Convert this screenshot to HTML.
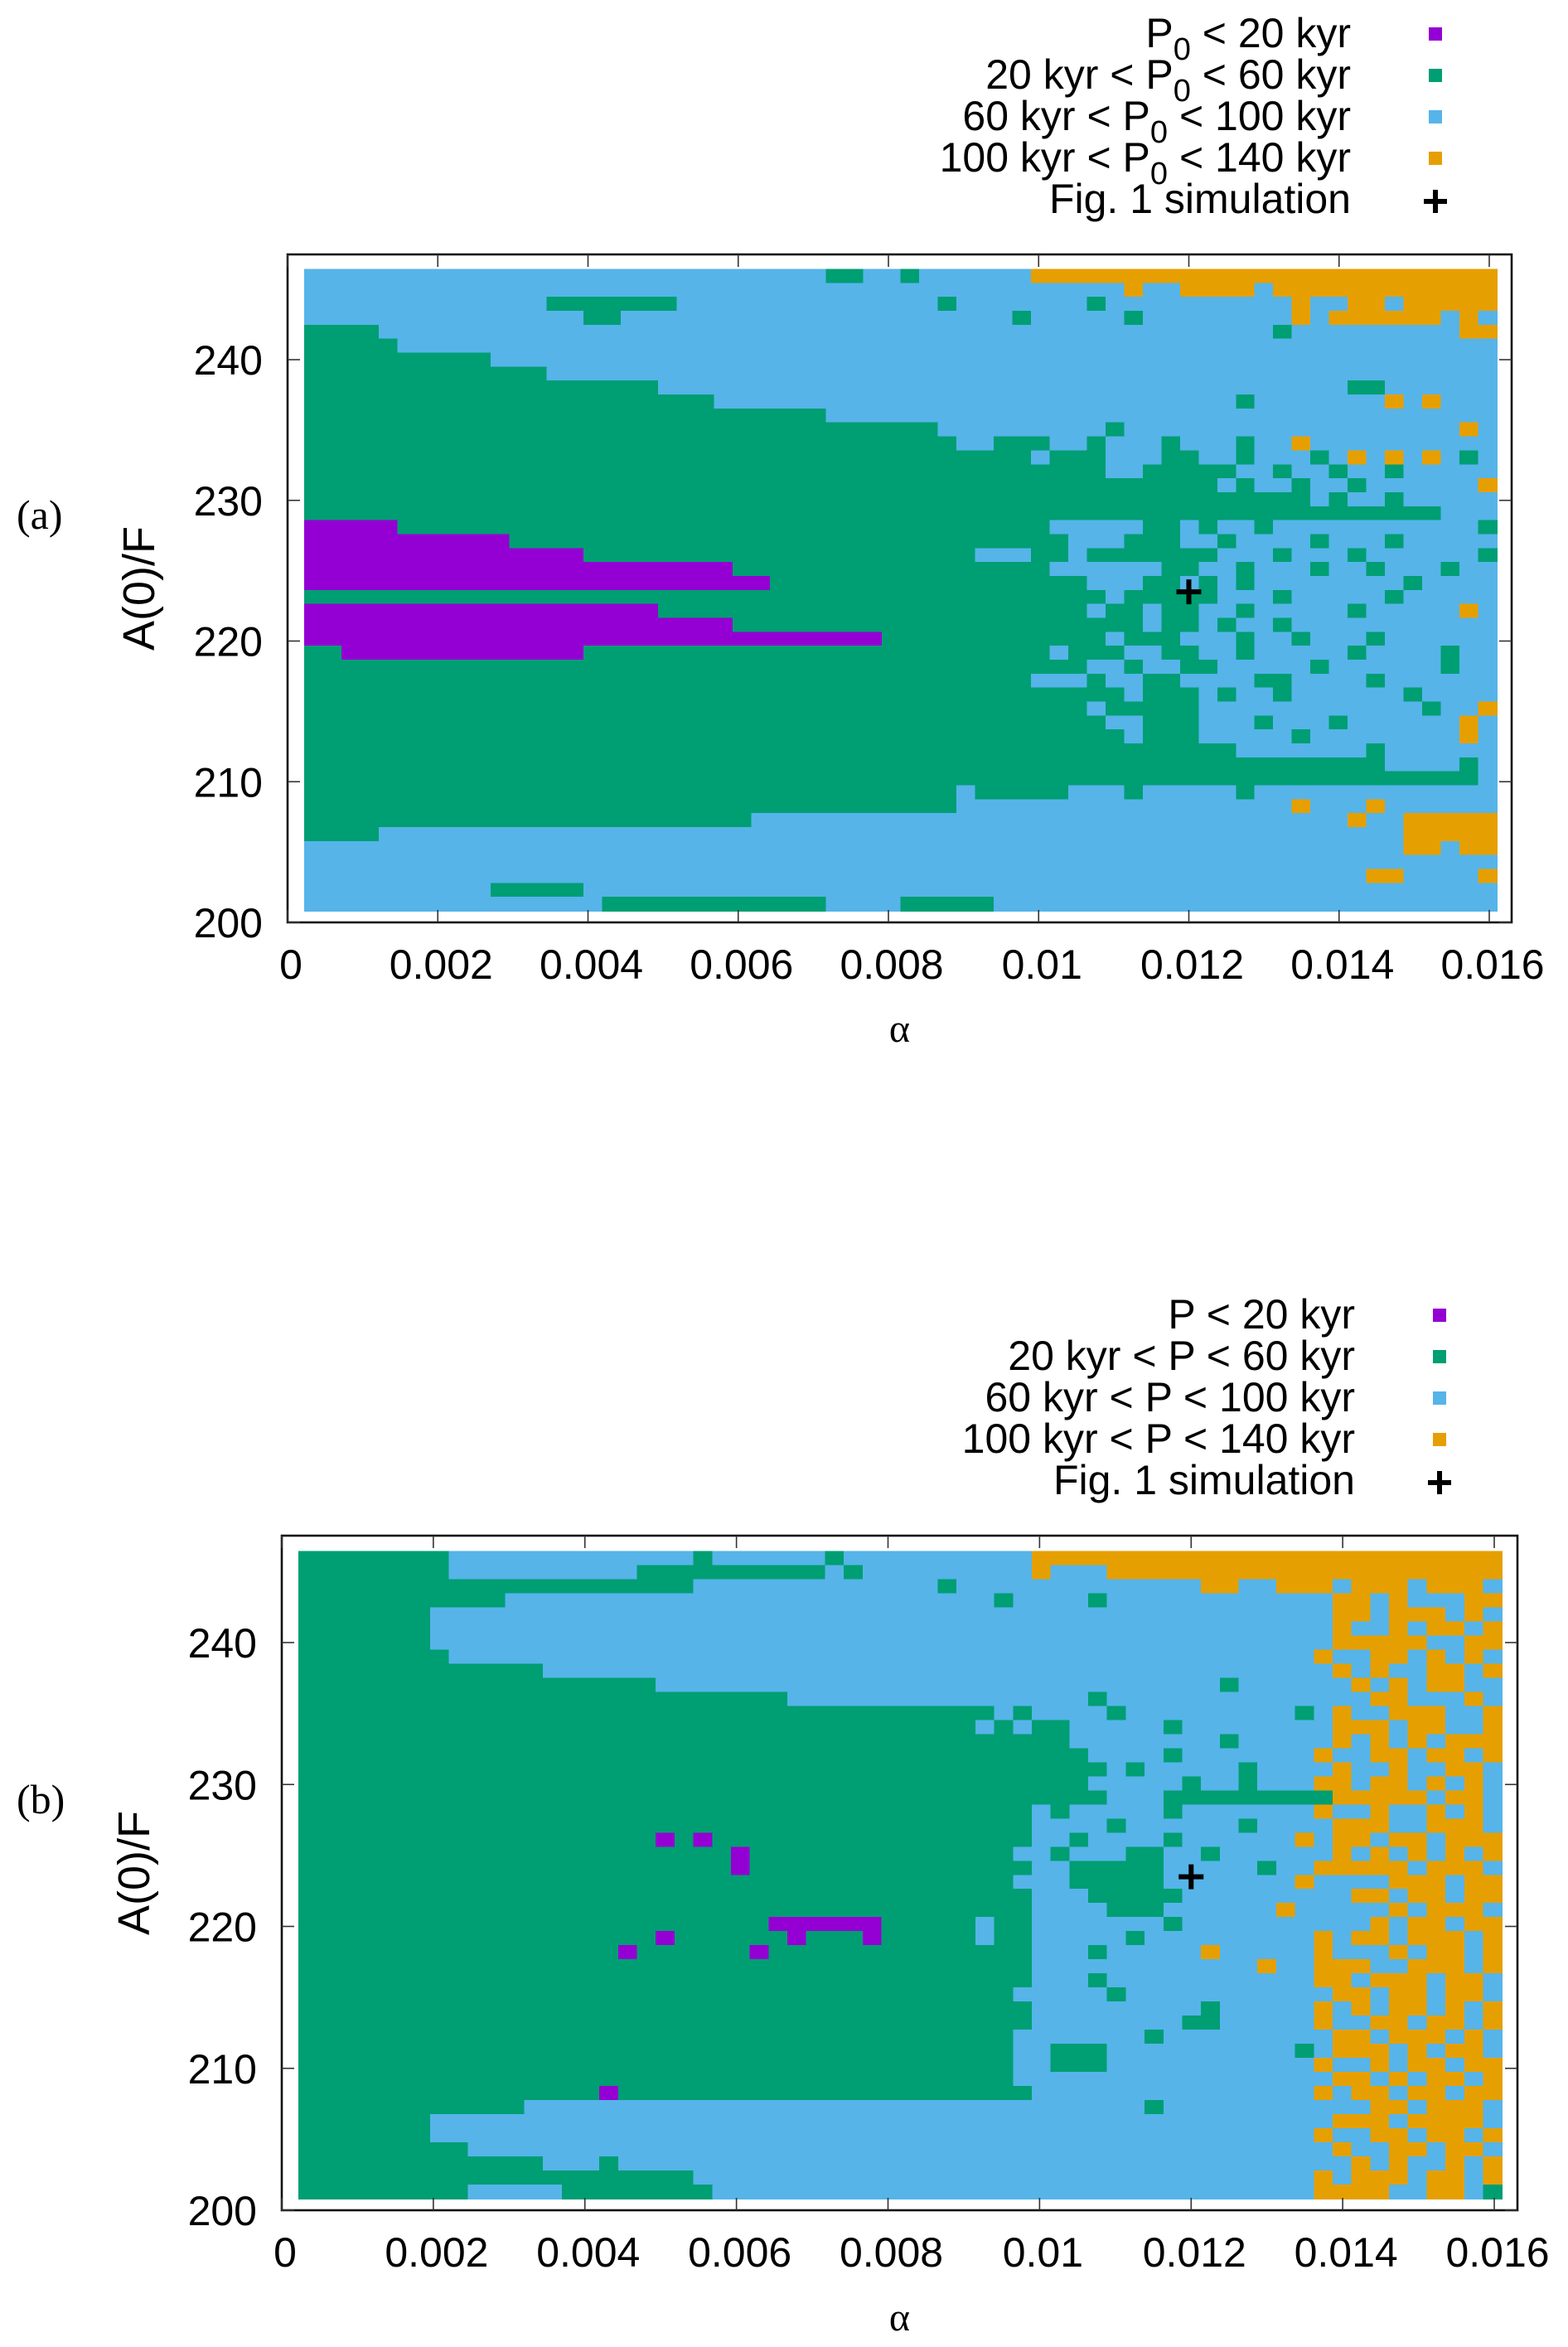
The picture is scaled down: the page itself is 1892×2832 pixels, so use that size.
<!DOCTYPE html>
<html><head><meta charset="utf-8"><style>
html,body{margin:0;padding:0;background:#fff;}
svg{display:block;}
text{font-family:"Liberation Sans",sans-serif;fill:#000;}
.serif{font-family:"Liberation Serif",serif;}
</style></head><body>
<svg id="fig" xmlns="http://www.w3.org/2000/svg" width="1892" height="2832" viewBox="0 0 1892 2832"></svg>
<script>
// ---- data ----
const alphaMin = 0.00022, alphaMax = 0.0161;
const aMin = 200.82, aMax = 246.45;
const xTicks = [0, 0.002, 0.004, 0.006, 0.008, 0.01, 0.012, 0.014, 0.016];
const xTickLabels = ["0","0.002","0.004","0.006","0.008","0.01","0.012","0.014","0.016"];
const yTicks = [200, 210, 220, 230, 240];
const yTickLabels = ["200","210","220","230","240"];
const crossPoint = [0.012, 223.5];
const categoryKeys = ["p","g","b","o"];
const categoryColors = {p:"#9400d3", g:"#009e73", b:"#56b4e9", o:"#e69f00"};
const legendA = [["P","0"," < 20 kyr",""],["20 kyr < P","0"," < 60 kyr",""],["60 kyr < P","0"," < 100 kyr",""],["100 kyr < P","0"," < 140 kyr",""]];
const legendB = ["P < 20 kyr","20 kyr < P < 60 kyr","60 kyr < P < 100 kyr","100 kyr < P < 140 kyr"];
const mapA = [
"bbbbbbbb bbbbbbbb bbbbbbbb bbbbggbb gbbbbbbo oooooooo oooooooo oooooooo",
"bbbbbbbb bbbbbbbb bbbbbbbb bbbbbbbb bbbbbbbb bbbbobbo oooboooo oooooooo",
"bbbbbbbb bbbbbggg ggggbbbb bbbbbbbb bbgbbbbb bbgbbbbb bbbbbobb oobooooo",
"bbbbbbbb bbbbbbbg gbbbbbbb bbbbbbbb bbbbbbgb bbbbgbbb bbbbbobo ooooobob",
"ggggbbbb bbbbbbbb bbbbbbbb bbbbbbbb bbbbbbbb bbbbbbbb bbbbgbbb bbbbbboo",
"gggggbbb bbbbbbbb bbbbbbbb bbbbbbbb bbbbbbbb bbbbbbbb bbbbbbbb bbbbbbbb",
"gggggggg ggbbbbbb bbbbbbbb bbbbbbbb bbbbbbbb bbbbbbbb bbbbbbbb bbbbbbbb",
"gggggggg gggggbbb bbbbbbbb bbbbbbbb bbbbbbbb bbbbbbbb bbbbbbbb bbbbbbbb",
"gggggggg gggggggg gggbbbbb bbbbbbbb bbbbbbbb bbbbbbbb bbbbbbbb ggbbbbbb",
"gggggggg gggggggg ggggggbb bbbbbbbb bbbbbbbb bbbbbbbb bbgbbbbb bbobobbb",
"gggggggg gggggggg gggggggg ggggbbbb bbbbbbbb bbbbbbbb bbbbbbbb bbbbbbbb",
"gggggggg gggggggg gggggggg gggggggg ggbbbbbb bbbgbbbb bbbbbbbb bbbbbbob",
"gggggggg gggggggg gggggggg gggggggg gggbbggg bbgbbbgb bbgbbobb bbbbbbbb",
"gggggggg gggggggg gggggggg gggggggg gggggggb gggbbbgg bbgbbbgb obobobgb",
"gggggggg gggggggg gggggggg gggggggg gggggggg gggbbggg ggbbgbbg bbgbbbbb",
"gggggggg gggggggg gggggggg gggggggg gggggggg gggggggg gbgbbgbb gbbbbbbo",
"gggggggg gggggggg gggggggg gggggggg gggggggg gggggggg ggggggbg bbgbbbbb",
"gggggggg gggggggg gggggggg gggggggg gggggggg gggggggg gggggggg gggggbbb",
"pppppggg gggggggg gggggggg gggggggg gggggggg bbbbbggb gbbgbbbb bbbbbbbg",
"pppppppp pppggggg gggggggg gggggggg gggggggg gbbbgggb bgbbbbgb bbgbbbbb",
"pppppppp pppppppg gggggggg gggggggg ggggbbbg gbgggggg gbbbgbbb gbbbbbbg",
"pppppppp pppppppp pppppppg gggggggg gggggggg bbbbbbgg bbgbbbgb bgbbbgbb",
"pppppppp pppppppp pppppppp pggggggg gggggggg ggbbbggb gbgbbbbb bbbgbbbb",
"gggggggg gggggggg gggggggg gggggggg gggggggg gggbgggg gbbbgbbb bbgbbbbb",
"pppppppp pppppppp pppggggg gggggggg gggggggg ggbggbgg bbgbbbbb gbbbbbob",
"pppppppp pppppppp pppppppg gggggggg gggggggg gggggbgg bgbbgbbb bbbbbbbb",
"pppppppp pppppppp pppppppp pppppppg gggggggg gggbgggb bbgbbgbb bgbbbbbb",
"ggpppppp pppppppg gggggggg gggggggg gggggggg bgggbbgg bbgbbbbb gbbbbgbb",
"gggggggg gggggggg gggggggg gggggggg gggggggg ggbbgbbg gbbbbbgb bbbbbgbb",
"gggggggg gggggggg gggggggg gggggggg gggggggb bbgbbggb bbbggbbb bgbbbbbb",
"gggggggg gggggggg gggggggg gggggggg gggggggg ggggbggg bgbbgbbb bbbgbbbb",
"gggggggg gggggggg gggggggg gggggggg gggggggg ggbggggg bbbbbbbb bbbbgbbo",
"gggggggg gggggggg gggggggg gggggggg gggggggg gggbbggg bbbgbbbg bbbbbbob",
"gggggggg gggggggg gggggggg gggggggg gggggggg ggggbggg bbbbbgbb bbbbbbob",
"gggggggg gggggggg gggggggg gggggggg gggggggg gggggggg ggbbbbbb bgbbbbbb",
"gggggggg gggggggg gggggggg gggggggg gggggggg gggggggg gggggggg ggbbbbgb",
"gggggggg gggggggg gggggggg gggggggg gggggggg gggggggg gggggggg gggggggb",
"gggggggg gggggggg gggggggg gggggggg gggbgggg gbbbgbbb bbgbbbbb bbbbbbbb",
"gggggggg gggggggg gggggggg gggggggg gggbbbbb bbbbbbbb bbbbbobb bobbbbbb",
"gggggggg gggggggg gggggggg bbbbbbbb bbbbbbbb bbbbbbbb bbbbbbbb obbooooo",
"ggggbbbb bbbbbbbb bbbbbbbb bbbbbbbb bbbbbbbb bbbbbbbb bbbbbbbb bbbooooo",
"bbbbbbbb bbbbbbbb bbbbbbbb bbbbbbbb bbbbbbbb bbbbbbbb bbbbbbbb bbbooboo",
"bbbbbbbb bbbbbbbb bbbbbbbb bbbbbbbb bbbbbbbb bbbbbbbb bbbbbbbb bbbbbbbb",
"bbbbbbbb bbbbbbbb bbbbbbbb bbbbbbbb bbbbbbbb bbbbbbbb bbbbbbbb boobbbbo",
"bbbbbbbb bbgggggb bbbbbbbb bbbbbbbb bbbbbbbb bbbbbbbb bbbbbbbb bbbbbbbb",
"bbbbbbbb bbbbbbbb gggggggg ggggbbbb gggggbbb bbbbbbbb bbbbbbbb bbbbbbbb"
];
const mapB = [
"gggggggg bbbbbbbb bbbbbgbb bbbbgbbb bbbbbbbo oooooooo oooooooo oooooooo",
"gggggggg bbbbbbbb bbgggggg ggggbgbb bbbbbbbo bbbooooo oooooooo oooooooo",
"gggggggg gggggggg gggggbbb bbbbbbbb bbgbbbbb bbbbbbbb oobbooob ooobooob",
"gggggggg gggbbbbb bbbbbbbb bbbbbbbb bbbbbgbb bbgbbbbb bbbbbbbo obobbboo",
"gggggggb bbbbbbbb bbbbbbbb bbbbbbbb bbbbbbbb bbbbbbbb bbbbbbbo obooobob",
"gggggggb bbbbbbbb bbbbbbbb bbbbbbbb bbbbbbbb bbbbbbbb bbbbbbbo bboboobo",
"gggggggb bbbbbbbb bbbbbbbb bbbbbbbb bbbbbbbb bbbbbbbb bbbbbbbo oooobboo",
"gggggggg bbbbbbbb bbbbbbbb bbbbbbbb bbbbbbbb bbbbbbbb bbbbbbob boobobob",
"gggggggg gggggbbb bbbbbbbb bbbbbbbb bbbbbbbb bbbbbbbb bbbbbbbo bobboobo",
"gggggggg gggggggg gggbbbbb bbbbbbbb bbbbbbbb bbbbbbbb bgbbbbbb oboboobb",
"gggggggg gggggggg gggggggg ggbbbbbb bbbbbbbb bbgbbbbb bbbbbbbb boobbbob",
"gggggggg gggggggg gggggggg gggggggg gggggbgb bbbgbbbb bbbbbgbo bbooobbo",
"gggggggg gggggggg gggggggg gggggggg ggggbgbg gbbbbbgb bbbbbbbo ooboobbo",
"gggggggg gggggggg gggggggg gggggggg gggggggg gbbbbbbb bgbbbbbo bobobooo",
"gggggggg gggggggg gggggggg gggggggg gggggggg ggbbbbgb bbbbbbob booboobo",
"gggggggg gggggggg gggggggg gggggggg gggggggg gggbgbbb bbgbbbbo bbobboob",
"gggggggg gggggggg gggggggg gggggggg gggggggg ggbbbbbg bbgbbboo boobobob",
"gggggggg gggggggg gggggggg gggggggg gggggggg gggbbbgg gggggggo ooooboob",
"gggggggg gggggggg gggggggg gggggggg gggggggb gbbbbbgb bbbbbbob bobbobob",
"gggggggg gggggggg gggggggg gggggggg gggggggb bbbgbbbb bbgbbbbo oobbooob",
"gggggggg gggggggg gggpgpgg gggggggg gggggggb bgbbbbgb bbbbbobo oboobooo",
"gggggggg gggggggg gggggggp gggggggg ggggggbb gbbbggbb gbbbbbbo bobobobo",
"gggggggg gggggggg gggggggp gggggggg gggggggb bgggggbb bbbgbboo ooobooob",
"gggggggg gggggggg gggggggg gggggggg ggggggbb bgggggbb bbbbbobb bboooboo",
"gggggggg gggggggg gggggggg gggggggg gggggggb bbgggggb bbbbbbbb oobooboo",
"gggggggg gggggggg gggggggg gggggggg gggggggb bbbgggbb bbbbobbb bbobooob",
"gggggggg gggggggg gggggggg gppppppg ggggbggb bbbbbbgb bbbbbbbb bobooboo",
"gggggggg gggggggg gggpgggg ggpgggpg ggggbggb bbbbgbbb bbbbbbob oobooobo",
"gggggggg gggggggg gpgggggg pggggggg gggggggb bbgbbbbb obbbbbob bboboobo",
"gggggggg gggggggg gggggggg gggggggg gggggggb bbbbbbbb bbbobboo obbooobo",
"gggggggg gggggggg gggggggg gggggggg gggggggb bbgbbbbb bbbbbboo boooboob",
"gggggggg gggggggg gggggggg gggggggg ggggggbb bbbgbbbb bbbbbbbo obooboob",
"gggggggg gggggggg gggggggg gggggggg gggggggb bbbbbbbb gbbbbbob oboobobo",
"gggggggg gggggggg gggggggg gggggggg gggggggb bbbbbbbg gbbbbbob booboobo",
"gggggggg gggggggg gggggggg gggggggg ggggggbb bbbbbgbb bbbbbbbo obooobob",
"gggggggg gggggggg gggggggg gggggggg ggggggbb gggbbbbb bbbbbgbo ooboboob",
"gggggggg gggggggg gggggggg gggggggg ggggggbb gggbbbbb bbbbbbob bobooboo",
"gggggggg gggggggg gggggggg gggggggg ggggggbb bbbbbbbb bbbbbbbo oboboobo",
"gggggggg gggggggg pggggggg gggggggg gggggggb bbbbbbbb bbbbbbob oobooboo",
"gggggggg ggggbbbb bbbbbbbb bbbbbbbb bbbbbbbb bbbbbgbb bbbbbbbb boobooob",
"gggggggb bbbbbbbb bbbbbbbb bbbbbbbb bbbbbbbb bbbbbbbb bbbbbbbo ooboooob",
"gggggggb bbbbbbbb bbbbbbbb bbbbbbbb bbbbbbbb bbbbbbbb bbbbbbob booboobo",
"gggggggg gbbbbbbb bbbbbbbb bbbbbbbb bbbbbbbb bbbbbbbb bbbbbbbo bbooboob",
"gggggggg gggggbbb gbbbbbbb bbbbbbbb bbbbbbbb bbbbbbbb bbbbbbbb obobbobo",
"gggggggg gggggggg gggggbbb bbbbbbbb bbbbbbbb bbbbbbbb bbbbbbob oooboobo",
"gggggggg gbbbbbgg ggggggbb bbbbbbbb bbbbbbbb bbbbbbbb bbbbbboo oobboobg"
];

// ---- rendering ----
const NS = "http://www.w3.org/2000/svg";
const svg = document.getElementById('fig');
function el(tag, attrs, parent){
  const e = document.createElementNS(NS, tag);
  for (const k in attrs) e.setAttribute(k, attrs[k]);
  (parent||svg).appendChild(e);
  return e;
}
function panel(cfg){
  const g = el('g', {});
  
  
  const xS = a => cfg.x0 + a * cfg.xk;
  const yS = v => cfg.y200 - (v - 200) * cfg.yk;
  const rows = cfg.map.map(r => r.replace(/ /g, ''));
  const nR = rows.length, nC = rows[0].length;
  const dA = (alphaMax - alphaMin) / nC, dV = (aMax - aMin) / nR;
  const hm = el('g', {'shape-rendering':'crispEdges'}, g);
  
  
  for (let r = 0; r < nR; r++){
    const row = rows[r];
    for (let c = 0; c < nC; c++){
      const k = row[c] || row[row.length-1];
      const xa = xS(alphaMin + c*dA), xb = xS(alphaMin + (c+1)*dA);
      const ya = yS(aMax - r*dV), yb = yS(aMax - (r+1)*dV);
      const rc = el('rect', {x: xa.toFixed(2), y: ya.toFixed(2), width: (xb-xa+0.8).toFixed(2), height: (yb-ya+0.8).toFixed(2), fill: categoryColors[k]}, hm);
      
      
    }
  }
  const fr = el('rect', {x: cfg.fl, y: cfg.ft, width: cfg.fr - cfg.fl, height: cfg.fb - cfg.ft, fill:'none', stroke:'#111', 'stroke-width':2.6}, g);
  
  
  xTicks.forEach((t, i) => {
    const x = xS(t);
    el('line', {x1:x, y1:cfg.fb, x2:x, y2:cfg.fb-15, stroke:'#333', 'stroke-width':1.6}, g);
    el('line', {x1:x, y1:cfg.ft, x2:x, y2:cfg.ft+15, stroke:'#333', 'stroke-width':1.6}, g);
    const tx = el('text', {x:x+4, y:cfg.fb+68, 'font-size':50, 'text-anchor':'middle'}, g);
    
    
    tx.textContent = xTickLabels[i];
  });
  yTicks.forEach((t, i) => {
    const y = yS(t);
    el('line', {x1:cfg.fl, y1:y, x2:cfg.fl+15, y2:y, stroke:'#333', 'stroke-width':1.6}, g);
    el('line', {x1:cfg.fr, y1:y, x2:cfg.fr-15, y2:y, stroke:'#333', 'stroke-width':1.6}, g);
    const tx = el('text', {x:cfg.fl-30, y:y+18, 'font-size':50, 'text-anchor':'end'}, g);
    
    
    tx.textContent = yTickLabels[i];
  });
  const cx = xS(crossPoint[0]), cy = yS(crossPoint[1]);
  const cr = el('path', {d:`M${cx-15} ${cy}H${cx+15}M${cx} ${cy-15}V${cy+15}`, stroke:'#000', 'stroke-width':6}, g);
  
  
  const xt = el('text', {x:(cfg.fl+cfg.fr)/2, y:cfg.xTitleY, 'font-size':48, 'text-anchor':'middle', class:'serif'}, g);
  
  
  xt.textContent = 'α';
  const ymid = (cfg.ft + cfg.fb)/2;
  const yt = el('text', {x:cfg.yTitleX, y:ymid, 'font-size':54, 'text-anchor':'middle', transform:`rotate(-90 ${cfg.yTitleX} ${ymid})`, 'dominant-baseline':'central'}, g);
  
  
  yt.textContent = 'A(0)/F';
  const pl = el('text', {x:20, y:cfg.panelLabelY, 'font-size':50, class:'serif'}, g);
  
  
  pl.textContent = cfg.label;
  const lg = el('g', {}, g);
  
  
  for (let i = 0; i < 5; i++){
    const by = cfg.legY + i*50;
    const t = el('text', {x:cfg.legX, y:by, 'font-size':50, 'text-anchor':'end'}, lg);
    
    
    if (i === 4) t.textContent = 'Fig. 1 simulation';
    else if (cfg.sub) {
      const parts = legendA[i];
      const s1 = el('tspan', {}, t); s1.textContent = parts[0];
      const s2 = el('tspan', {dy:15, 'font-size':38}, t); s2.textContent = parts[1];
      const s3 = el('tspan', {dy:-15}, t); s3.textContent = parts[2];
    } else t.textContent = legendB[i];
    const mx = cfg.legMX;
    if (i < 4) {
      const m = el('rect', {x:mx-8, y:by-24, width:16, height:16, fill:categoryColors[categoryKeys[i]]}, lg);
      
      
    } else {
      const m = el('path', {d:`M${mx-14} ${by-14}H${mx+14}M${mx} ${by-28}V${by}`, stroke:'#000', 'stroke-width':6}, lg);
      
      
    }
  }
}
panel({name:'panel-a', map:mapA, x0:347, xk:90625, y200:1113, yk:16.975,
  fl:347, ft:307, fr:1824, fb:1113, xTitleY:1257, yTitleX:168, panelLabelY:638, label:'(a)',
  sub:true, legX:1630, legY:57, legMX:1732});
panel({name:'panel-b', map:mapB, x0:340, xk:91437.5, y200:2667, yk:17.125,
  fl:340, ft:1853, fr:1831, fb:2667, xTitleY:2812, yTitleX:162, panelLabelY:2188, label:'(b)',
  sub:false, legX:1635, legY:1603, legMX:1737});
</script>
</body></html>
